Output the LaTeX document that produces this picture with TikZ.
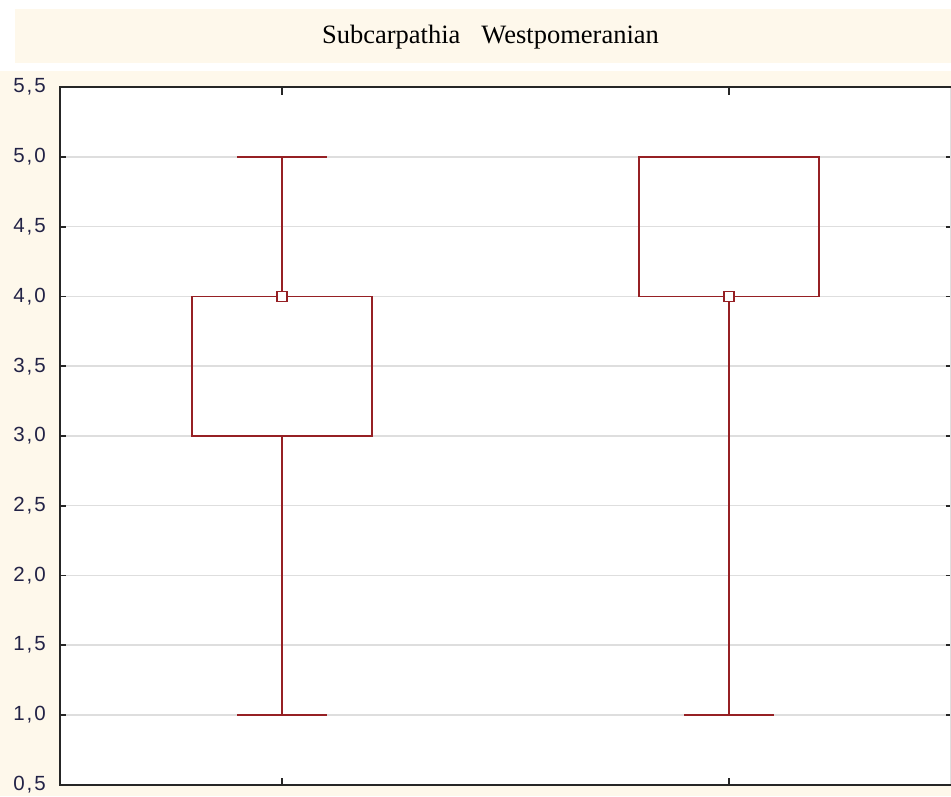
\documentclass[tikz,border=0pt]{standalone}
\usepackage{fontspec}
\setmainfont{Liberation Serif}
\newfontfamily\axisfont{Liberation Sans}
\usepackage{tikz}
\usetikzlibrary{positioning}
\usepackage{xcolor}

\definecolor{panel}{HTML}{FEF8EB}
\definecolor{boxred}{RGB}{150,32,36}
\definecolor{gridgray}{RGB}{222,222,222}
\definecolor{labelblue}{RGB}{34,34,70}

\newcommand{\ylab}[2]{#1\hspace{2pt},\hspace{2pt}#2}

\tikzset{
	gridline/.style={draw=gridgray,line width=1.5pt},
	axisline/.style={draw=black!85,line width=1.6pt},
	whisker/.style={draw=boxred,line width=1.7pt},
	ylabel/.style={anchor=east,inner sep=0pt,text=labelblue,font=\axisfont\fontsize{20.5}{24}\selectfont},
	medmark/.style={draw=boxred,fill=white,line width=1.5pt,minimum size=10pt,inner sep=0pt}
}

\begin{document}
\begin{tikzpicture}
	\useasboundingbox (0,0) rectangle (951pt,796pt);
	
	% title band
	\fill[panel] (15pt,733pt) rectangle (951pt,787pt);
	\node[font=\fontsize{26.5}{30}\selectfont] (title) at (490.5pt,759pt) {Subcarpathia\hspace{21pt}Westpomeranian};
	
	% plot background
	\fill[panel] (0,0) rectangle (951pt,725pt);
	
	\begin{scope}[x=1pt,y=139.5pt,yshift=-58.5pt]
		\fill[white] (60,0.5) rectangle (950,5.5);
		
		\foreach \v in {1,1.5,...,5}
			\draw[gridline] (60,\v) -- (946,\v);
		
		\foreach \v in {0.5,1,...,5.5}{
			\draw[axisline] (60,\v) -- +(6pt,0);
			\draw[axisline] (951,\v) -- +(-5pt,0);
		}
		
		\foreach \v/\a/\b in {0.5/0/5,1/1/0,1.5/1/5,2/2/0,2.5/2/5,3/3/0,3.5/3/5,4/4/0,4.5/4/5,5/5/0,5.5/5/5}
			\node[ylabel] (lab\a\b) at (46,\v) {\ylab{\a}{\b}};
		
		\draw[draw=gridgray,line width=1pt] (950.5,0.5) -- (950.5,5.5);
		\draw[axisline] (951,5.5) -- (60,5.5) -- (60,0.5) -- (951,0.5);
		
		\foreach \gx in {282,729}{
			\draw[axisline] (\gx,5.5) -- +(0,-8pt);
			\draw[axisline] (\gx,0.5) -- +(0,7pt);
		}
		
		% boxes
		\foreach \gx/\lo/\qa/\qb/\hi/\md/\gn in {282/1/3/4/5/4/sub,729/1/4/5/5/4/west}{
			\draw[whisker] (\gx,\lo) -- (\gx,\qa);
			\draw[whisker] (\gx,\qb) -- (\gx,\hi);
			\draw[whisker] (\gx-45,\lo) -- (\gx+45,\lo);
			\draw[whisker] (\gx-45,\hi) -- (\gx+45,\hi);
			\draw[whisker] (\gx-90,\qa) rectangle (\gx+90,\qb);
			\node[medmark] (med\gn) at (\gx,\md) {};
		}
	\end{scope}
\end{tikzpicture}
\end{document}
